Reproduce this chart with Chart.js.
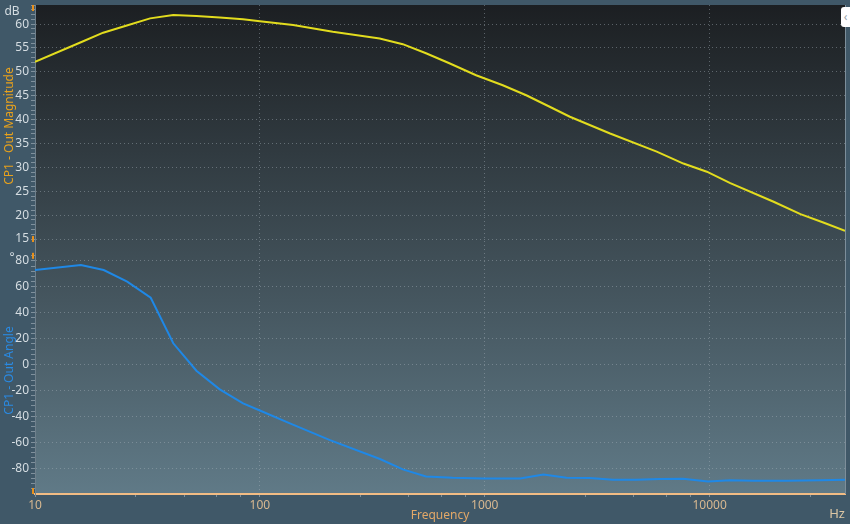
<!DOCTYPE html>
<html>
<head>
<meta charset="utf-8">
<script src="https://cdn.jsdelivr.net/npm/chart.js@4"></script>
<style>
  html, body { margin: 0; padding: 0; background: #405868; }
  #wrap { position: relative; width: 850px; height: 524px; }
  #btn { position: absolute; left: 841px; top: 7px; width: 9px; height: 20px; background: #ffffff;
         border-radius: 3px 0 0 3px; color: #9aa4aa; font: 12px "Noto Sans", sans-serif; line-height: 20px; text-align: center; }
</style>
</head>
<body>
<div id="wrap">
  <canvas id="c" width="850" height="524"></canvas>
  <div id="btn">‹</div>
</div>
<script>
// ---- data ----
const magFreq = [10, 16, 20.1, 25.6, 32.5, 41.2, 52.2, 66.3, 84.1, 100, 140.6, 211, 341, 432, 548, 696, 915, 1203, 1529, 1944, 2392, 3609, 5818, 7646, 9720, 12356, 19260, 25354, 32240, 40000];
const magDb   = [52.1, 56.2, 58.2, 59.7, 61.2, 61.9, 61.7, 61.4, 61.0, 60.6, 59.8, 58.4, 57.0, 55.8, 53.9, 51.8, 49.3, 47.2, 45.1, 42.7, 40.6, 37.1, 33.3, 30.8, 29.1, 26.7, 22.8, 20.2, 18.4, 16.7];

const angFreq = [10, 16, 20.2, 25.7, 32.7, 41.2, 52.2, 66.3, 84.2, 100, 136, 205, 342, 432, 548, 721, 982, 1438, 1825, 2310, 2928, 3717, 4718, 5995, 7610, 9843, 12355, 15680, 22050, 30990, 40000];
const angDeg  = [73.0, 76.9, 73.0, 64.0, 51.6, 16.4, -4.8, -19.2, -30.0, -35.5, -45.5, -58.4, -73.0, -81.0, -86.4, -87.5, -88.0, -88.0, -84.9, -87.5, -87.7, -89.0, -89.0, -88.5, -88.3, -90.3, -89.3, -89.8, -89.8, -89.3, -89.0];

const xMajorTicks = [10, 100, 1000, 10000];
const xMinorTicks = [28, 46, 64, 82, 280, 460, 640, 820, 2800, 4600, 6400, 8200, 28000];
const xRange = [10, 40000];
const magRange = [13.33, 64];
const angRange = [-100, 90.8];
const magLabelStep = 5, magMinorStep = 1, magLabelMin = 15, magLabelMax = 60;
const angLabelStep = 20, angMinorStep = 4, angLabelMin = -80, angLabelMax = 80;
const magTitle = 'CP1 - Out Magnitude';
const angTitle = 'CP1 - Out Angle';
const xTitle = 'Frequency';

const FONT = '"Noto Sans", "Open Sans", sans-serif';
const GRID = 'rgba(165,175,185,0.45)';
const TICKC = '#7f909c';

function rangeTicks(lo, hi, step) {
  const out = [];
  const start = Math.ceil(lo / step) * step;
  for (let v = start; v <= hi + 1e-9; v += step) out.push(v);
  return out;
}

const bgPlugin = {
  id: 'bg',
  beforeDraw(chart) {
    const {ctx, chartArea: a} = chart;
    const g = ctx.createLinearGradient(0, a.top, 0, a.bottom);
    g.addColorStop(0, '#1c1f22');
    g.addColorStop(1, '#607a87');
    ctx.save();
    ctx.fillStyle = g;
    ctx.fillRect(a.left, a.top, a.right - a.left, a.bottom - a.top);
    ctx.restore();
  },
  afterDraw(chart) {
    const {ctx, chartArea: a, scales} = chart;
    ctx.save();
    ctx.strokeStyle = '#7d8e9a';
    ctx.lineWidth = 1;
    ctx.beginPath(); ctx.moveTo(a.right + 0.5, a.top); ctx.lineTo(a.right + 0.5, a.bottom); ctx.stroke();
    ctx.fillStyle = '#e8901c';
    const ym = scales.yMag, ya = scales.yAng;
    const marks = [ym.top, ym.getPixelForValue(magLabelMin) - 3, ya.getPixelForValue(84) - 3, ya.bottom - 6];
    marks.forEach(y => ctx.fillRect(a.left - 3, y, 2, 6));
    ctx.font = '12px ' + FONT;
    ctx.textAlign = 'center';
    ctx.textBaseline = 'middle';
    ctx.fillStyle = '#d5dde2';
    ctx.fillText('dB', 12, 12);
    ctx.fillText('°', 12, ym.bottom + 11);
    ctx.fillStyle = '#dcc6a4';
    ctx.font = '13px ' + FONT;
    ctx.fillText('Hz', 837, 514);
    ctx.restore();
  }
};

function noPad(s) { s.paddingTop = 0; s.paddingBottom = 0; s.paddingLeft = 0; s.paddingRight = 0; }

new Chart(document.getElementById('c'), {
  type: 'line',
  data: {
    datasets: [
      { label: magTitle, data: magFreq.map((f, i) => ({x: f, y: magDb[i]})), yAxisID: 'yMag',
        borderColor: '#e2dc1e', borderWidth: 2, pointRadius: 0, tension: 0 },
      { label: angTitle, data: angFreq.map((f, i) => ({x: f, y: angDeg[i]})), yAxisID: 'yAng',
        borderColor: '#1f88e6', borderWidth: 2, pointRadius: 0, tension: 0 }
    ]
  },
  options: {
    responsive: false,
    animation: false,
    layout: { padding: { left: 0, top: 5, right: 5, bottom: 0 } },
    plugins: { legend: { display: false }, tooltip: { enabled: false } },
    scales: {
      x: {
        type: 'logarithmic',
        min: xRange[0], max: xRange[1],
        afterBuildTicks(s) {
          s.ticks = xMajorTicks.concat(xMinorTicks).sort((a, b) => a - b).map(v => ({value: v}));
        },
        afterFit(s) { s.height = 30; noPad(s); },
        ticks: {
          autoSkip: false, maxRotation: 0, padding: 1,
          color: '#d8b890', font: { family: FONT, size: 12 },
          callback: (v) => xMajorTicks.includes(v) ? String(v) : ''
        },
        grid: {
          color: (c) => (c.tick && xMajorTicks.includes(c.tick.value) && c.tick.value !== xRange[0]) ? GRID : 'transparent',
          tickColor: TICKC, tickLength: 3, lineWidth: 1
        },
        border: { color: '#f2bc84', width: 2, dash: [1, 3] },
        title: { display: true, text: xTitle, color: '#e2a868', font: { family: FONT, size: 12 }, padding: { top: 0, bottom: 1 } }
      },
      yMag: {
        type: 'linear', position: 'left', stack: 'left', stackWeight: 242, weight: 2,
        min: magRange[0], max: magRange[1],
        afterBuildTicks(s) { s.ticks = rangeTicks(15, magRange[1], magMinorStep).map(v => ({value: v})); },
        afterFit(s) { s.width = 35; noPad(s); },
        ticks: {
          autoSkip: false, padding: 2, color: '#d5dde2', font: { family: FONT, size: 12 },
          callback: (v) => (v % magLabelStep === 0 && v >= magLabelMin && v <= magLabelMax) ? String(v) : ''
        },
        grid: {
          color: (c) => (c.tick && c.tick.value % magLabelStep === 0) ? GRID : 'transparent',
          tickColor: TICKC, tickLength: 4
        },
        border: { color: '#6f808c', width: 1, dash: [1, 3] },
        title: { display: true, text: magTitle, color: '#e8a21c', font: { family: FONT, size: 12 }, padding: { top: 2, bottom: 0 } }
      },
      yAng: {
        type: 'linear', position: 'left', stack: 'left', stackWeight: 247, weight: 1,
        min: angRange[0], max: angRange[1],
        afterBuildTicks(s) { s.ticks = rangeTicks(-96, 84, angMinorStep).map(v => ({value: v})); },
        afterFit(s) { s.width = 35; noPad(s); },
        ticks: {
          autoSkip: false, padding: 2, color: '#d5dde2', font: { family: FONT, size: 12 },
          callback: (v) => (v % angLabelStep === 0 && v >= angLabelMin && v <= angLabelMax) ? String(v) : ''
        },
        grid: {
          color: (c) => (c.tick && c.tick.value % angLabelStep === 0 && c.tick.value >= angLabelMin && c.tick.value <= angLabelMax) ? GRID : 'transparent',
          tickColor: TICKC, tickLength: 4
        },
        border: { color: '#6f808c', width: 1, dash: [1, 3] },
        title: { display: true, text: angTitle, color: '#2a8ae2', font: { family: FONT, size: 12 }, padding: { top: 2, bottom: 0 } }
      }
    }
  },
  plugins: [bgPlugin]
});
</script>
</body>
</html>
